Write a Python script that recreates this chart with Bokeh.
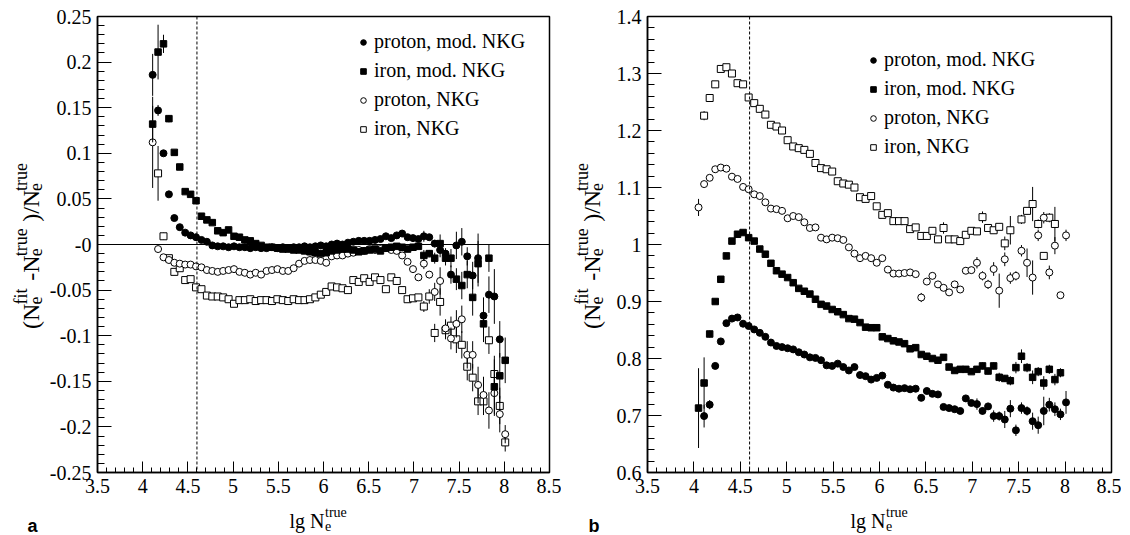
import math
from bokeh.plotting import figure
from bokeh.layouts import row, column
from bokeh.models import (ColumnDataSource, FixedTicker, Span, Legend, LegendItem, Range1d,
                          CustomJSTickFormatter)
from bokeh.core.properties import value
from bokeh.embed import file_html
from bokeh.resources import INLINE

# ---------------- data ----------------
lg_ne = [4.05, 4.11, 4.17, 4.23, 4.29, 4.35, 4.41, 4.47, 4.53, 4.59,
         4.65, 4.71, 4.77, 4.83, 4.89, 4.95, 5.01, 5.07, 5.13, 5.19,
         5.25, 5.31, 5.37, 5.43, 5.49, 5.55, 5.61, 5.67, 5.73, 5.79,
         5.85, 5.91, 5.97, 6.03, 6.09, 6.15, 6.21, 6.27, 6.33, 6.39,
         6.45, 6.51, 6.57, 6.63, 6.69, 6.75, 6.81, 6.87, 6.93, 6.99,
         7.05, 7.11, 7.17, 7.23, 7.29, 7.35, 7.41, 7.47, 7.53, 7.59,
         7.65, 7.71, 7.77, 7.83, 7.89, 7.95, 8.01]

# panel a : (Nfit - Ntrue)/Ntrue
a_p_mod = [None, 0.186, 0.147, 0.100, 0.055, 0.029, 0.019, 0.013, 0.010, 0.008,
           0.005, 0.003, -0.001, -0.002, -0.002, -0.003, -0.002, -0.003, -0.003, -0.004,
           -0.003, -0.004, -0.004, -0.003, -0.004, -0.003, -0.004, -0.003, -0.003, -0.002,
           -0.003, -0.002, -0.001, -0.002, 0.000, 0.001, 0.000, 0.002, 0.003, 0.004,
           0.004, 0.004, 0.005, 0.006, 0.009, 0.007, 0.010, 0.012, 0.008, 0.007,
           0.006, 0.009, 0.008, 0.001, -0.006, -0.010, -0.033, -0.001, 0.003, -0.013,
           -0.034, -0.015, -0.078, -0.055, -0.057, -0.104, None]
a_p_mod_err = [None, 0.023, 0.006, 0.003, 0.002, 0, 0, 0, 0, 0,
               0, 0, 0, 0, 0, 0, 0, 0, 0, 0,
               0, 0, 0, 0, 0, 0, 0, 0, 0, 0,
               0, 0, 0, 0, 0, 0, 0, 0, 0, 0,
               0, 0.002, 0.002, 0.002, 0.002, 0.002, 0.002, 0.002, 0.002, 0.002,
               0.002, 0.006, 0.003, 0.004, 0.008, 0.006, 0.010, 0.015, 0.015, 0.010,
               0.015, 0.027, 0.020, 0.020, 0.030, 0.020, None]

a_fe_mod = [None, 0.132, 0.211, 0.220, 0.138, 0.101, 0.085, 0.058, 0.055, 0.048,
            0.031, 0.027, 0.024, 0.015, 0.013, 0.016, 0.009, 0.008, 0.005, 0.004,
            0.001, -0.001, -0.003, -0.003, -0.004, -0.005, -0.005, -0.006, -0.006, -0.007,
            -0.008, -0.009, -0.010, -0.009, -0.007, -0.006, -0.005, -0.005, -0.006, -0.008,
            -0.007, -0.006, -0.005, -0.007, -0.004, -0.003, -0.002, -0.003, -0.005, -0.003,
            -0.002, -0.012, -0.010, -0.015, 0.001, -0.015, -0.015, -0.038, -0.045, -0.033,
            -0.058, -0.021, -0.087, -0.015, -0.156, -0.144, -0.127]
a_fe_mod_err = [None, 0.020, 0.030, 0.010, 0.004, 0.002, 0.002, 0, 0, 0,
                0, 0, 0, 0, 0, 0, 0, 0, 0, 0,
                0, 0, 0, 0, 0, 0, 0, 0, 0, 0,
                0, 0, 0, 0, 0, 0, 0, 0, 0, 0,
                0, 0, 0, 0, 0, 0, 0, 0, 0, 0,
                0, 0.006, 0.004, 0.006, 0.010, 0.008, 0.010, 0.012, 0.015, 0.015,
                0.020, 0.025, 0.020, 0.015, 0.030, 0.025, 0.025]

a_p_nkg = [None, 0.112, -0.005, -0.014, -0.017, -0.020, -0.021, -0.022, -0.022, -0.024,
           -0.025, -0.028, -0.029, -0.030, -0.029, -0.028, -0.027, -0.030, -0.031, -0.033,
           -0.031, -0.033, -0.029, -0.028, -0.027, -0.029, -0.029, -0.026, -0.021, -0.018,
           -0.017, -0.017, -0.018, -0.020, -0.013, -0.012, -0.012, -0.010, -0.009, -0.006,
           -0.007, -0.005, -0.006, -0.005, -0.004, -0.006, -0.007, -0.012, -0.019, -0.027,
           -0.036, -0.021, -0.033, -0.052, -0.040, -0.092, -0.103, -0.087, -0.082, -0.121,
           -0.121, -0.154, -0.165, -0.182, -0.163, -0.186, -0.208]
a_p_nkg_err = [None, 0.050, 0.003, 0, 0, 0, 0, 0, 0, 0,
               0, 0, 0, 0, 0, 0, 0, 0, 0, 0,
               0, 0, 0, 0, 0, 0, 0, 0, 0, 0,
               0, 0, 0, 0, 0, 0, 0, 0, 0, 0,
               0, 0, 0, 0, 0, 0, 0, 0, 0, 0,
               0, 0.006, 0.004, 0.010, 0.015, 0.010, 0.012, 0.015, 0.015, 0.015,
               0.015, 0.020, 0.020, 0.020, 0.025, 0.020, 0.010]

a_fe_nkg = [None, None, 0.078, 0.009, -0.015, -0.030, -0.026, -0.039, -0.038, -0.047,
            -0.049, -0.056, -0.057, -0.057, -0.058, -0.060, -0.065, -0.061, -0.061, -0.060,
            -0.062, -0.061, -0.061, -0.062, -0.060, -0.061, -0.062, -0.060, -0.061, -0.061,
            -0.060, -0.058, -0.055, -0.052, -0.046, -0.047, -0.048, -0.050, -0.039, -0.041,
            -0.037, -0.041, -0.036, -0.039, -0.049, -0.036, -0.040, -0.050, -0.060, -0.059,
            -0.058, -0.068, -0.057, -0.097, -0.063, -0.094, -0.089, -0.104, -0.110, -0.134,
            -0.146, -0.172, -0.172, -0.105, -0.142, -0.177, -0.217]
a_fe_nkg_err = [None, None, 0.030, 0.004, 0.002, 0, 0, 0, 0, 0,
                0, 0, 0, 0, 0, 0, 0, 0, 0, 0,
                0, 0, 0, 0, 0, 0, 0, 0, 0, 0,
                0, 0, 0, 0, 0, 0, 0, 0, 0, 0,
                0, 0, 0, 0, 0, 0, 0, 0, 0, 0,
                0, 0.006, 0.008, 0.010, 0.015, 0.010, 0.010, 0.015, 0.015, 0.015,
                0.015, 0.015, 0.015, 0.015, 0.020, 0.020, 0.010]

# panel b
b_p_mod = [None, 0.699, 0.719, 0.787, 0.830, 0.862, 0.870, 0.872, 0.861, 0.857,
           0.851, 0.845, 0.838, 0.828, 0.822, 0.820, 0.818, 0.816, 0.811, 0.807,
           0.802, 0.801, 0.797, 0.788, 0.787, 0.791, 0.785, 0.779, 0.785, 0.771,
           0.769, 0.763, 0.766, 0.770, 0.754, 0.749, 0.747, 0.748, 0.746, 0.747,
           0.731, 0.743, 0.738, 0.737, 0.715, 0.713, 0.711, 0.708, 0.730, 0.722,
           0.720, 0.708, 0.716, 0.699, 0.699, 0.693, 0.712, 0.674, 0.713, 0.708,
           0.690, 0.683, 0.708, 0.719, 0.711, 0.702, 0.723]
b_p_mod_err = [None, 0.020, 0.008, 0.003, 0, 0, 0, 0, 0, 0,
               0, 0, 0, 0, 0, 0, 0, 0, 0, 0,
               0, 0, 0, 0, 0, 0, 0, 0, 0, 0,
               0, 0, 0, 0, 0, 0, 0, 0, 0, 0,
               0.004, 0.004, 0.004, 0.004, 0.004, 0.004, 0.004, 0.004, 0.004, 0.004,
               0.010, 0.006, 0.006, 0.010, 0.008, 0.015, 0.015, 0.010, 0.010, 0.008,
               0.015, 0.015, 0.025, 0.012, 0.012, 0.010, 0.020]

b_fe_mod = [0.713, 0.757, 0.843, 0.900, 0.939, 0.980, 1.006, 1.018, 1.021, 1.012,
            1.006, 0.992, 0.983, 0.967, 0.954, 0.948, 0.942, 0.933, 0.923, 0.918,
            0.913, 0.904, 0.895, 0.892, 0.886, 0.882, 0.877, 0.870, 0.869, 0.863,
            0.855, 0.854, 0.854, 0.838, 0.835, 0.831, 0.829, 0.826, 0.817, 0.819,
            0.807, 0.804, 0.800, 0.797, 0.802, 0.785, 0.779, 0.781, 0.781, 0.777,
            0.781, 0.787, 0.778, 0.787, 0.767, 0.765, 0.761, 0.784, 0.804, 0.784,
            0.767, 0.777, 0.757, 0.781, 0.763, 0.775, None]
b_fe_mod_err = [0.070, 0.045, 0.006, 0.003, 0, 0, 0, 0, 0, 0,
                0, 0, 0, 0, 0, 0, 0, 0, 0, 0,
                0, 0, 0, 0, 0, 0, 0, 0, 0, 0,
                0, 0, 0, 0, 0, 0, 0, 0, 0, 0,
                0, 0, 0, 0, 0, 0, 0, 0, 0, 0,
                0.006, 0.006, 0.006, 0.006, 0.008, 0.006, 0.008, 0.010, 0.012, 0.008,
                0.012, 0.008, 0.012, 0.008, 0.010, 0.008, None]

b_p_nkg = [1.065, 1.106, 1.117, 1.132, 1.135, 1.133, 1.119, 1.115, 1.101, 1.097,
           1.088, 1.085, 1.074, 1.063, 1.062, 1.059, 1.046, 1.050, 1.048, 1.039,
           1.029, 1.030, 1.012, 1.009, 1.012, 1.011, 1.008, 0.995, 0.984, 0.976,
           0.980, 0.976, 0.968, 0.976, 0.956, 0.949, 0.949, 0.950, 0.951, 0.948,
           0.907, 0.935, 0.945, 0.930, 0.924, 0.916, 0.930, 0.921, 0.954, 0.955,
           0.968, 0.945, 0.930, 0.957, 0.919, 0.974, 0.941, 0.945, 0.989, 0.968,
           0.942, 1.016, 1.047, 0.951, 0.998, 0.911, 1.016]
b_p_nkg_err = [0.015, 0.004, 0, 0, 0, 0, 0, 0, 0, 0,
               0, 0, 0, 0, 0, 0, 0, 0, 0, 0,
               0, 0, 0, 0, 0, 0, 0, 0, 0, 0,
               0, 0, 0, 0, 0, 0, 0, 0, 0, 0,
               0.008, 0.006, 0.006, 0.006, 0.006, 0.006, 0.006, 0.006, 0.006, 0.006,
               0.010, 0.008, 0.008, 0.012, 0.030, 0.012, 0.010, 0.008, 0.010, 0.025,
               0.030, 0.010, 0.010, 0.012, 0.015, 0.004, 0.010]

b_fe_nkg = [None, 1.226, 1.257, 1.281, 1.308, 1.311, 1.300, 1.283, 1.281, 1.258,
            1.248, 1.238, 1.228, 1.210, 1.207, 1.200, 1.183, 1.172, 1.169, 1.166,
            1.159, 1.143, 1.134, 1.132, 1.128, 1.111, 1.107, 1.105, 1.100, 1.083,
            1.080, 1.085, 1.067, 1.052, 1.055, 1.041, 1.041, 1.041, 1.027, 1.030,
            1.015, 1.015, 1.024, 1.009, 1.029, 1.009, 1.009, 1.006, 1.017, 1.024,
            1.023, 1.048, 1.029, 1.025, 1.031, 1.002, 1.025, None, 1.044, 1.059,
            1.071, 1.036, 0.980, 1.047, 1.036, None, None]
b_fe_nkg_err = [None, 0.008, 0.003, 0, 0, 0, 0, 0, 0, 0,
                0, 0, 0, 0, 0, 0, 0, 0, 0, 0,
                0, 0, 0, 0, 0, 0, 0, 0, 0, 0,
                0, 0, 0, 0, 0, 0, 0, 0, 0, 0,
                0, 0, 0, 0, 0.010, 0, 0, 0, 0, 0,
                0, 0.010, 0, 0, 0.004, 0.012, 0.025, None, 0.008, 0.006,
                0.030, 0.008, 0.004, 0.008, 0.030, None, None]

legend_labels = ["proton, mod. NKG", "iron, mod. NKG", "proton, NKG", "iron, NKG"]
panel_tags = ["a", "b"]
cut_lg_ne = 4.6

x_ticks = [3.5, 4.0, 4.5, 5.0, 5.5, 6.0, 6.5, 7.0, 7.5, 8.0, 8.5]
x_tick_labels = ["3.5", "4", "4.5", "5", "5.5", "6", "6.5", "7", "7.5", "8", "8.5"]
a_y_ticks = [-0.25, -0.2, -0.15, -0.1, -0.05, 0.0, 0.05, 0.1, 0.15, 0.2, 0.25]
a_y_tick_labels = ["-0.25", "-0.2", "-0.15", "-0.1", "-0.05", "-0", "0.05", "0.1", "0.15", "0.2", "0.25"]
b_y_ticks = [0.6, 0.7, 0.8, 0.9, 1.0, 1.1, 1.2, 1.3, 1.4]
b_y_tick_labels = ["0.6", "0.7", "0.8", "0.9", "1", "1.1", "1.2", "1.3", "1.4"]

# ---------------- styling / layout ----------------
SERIF = "Liberation Serif"
TOP = 16
FRAME_H = 456
BOT = 30
PH = TOP + FRAME_H + BOT          # height of the panels row
STRIP_H = 535 - PH                # bottom strip with axis titles
YT_W = 46                         # width of the y-title columns

FMT_CODE = """
let best = 0, d = Infinity;
for (let i = 0; i < tv.length; i++) {
  const dd = Math.abs(tv[i] - tick);
  if (dd < d) { d = dd; best = i; }
}
return tl[best];
"""


def fmt(tick_vals, tick_labels):
    return CustomJSTickFormatter(args=dict(tv=tick_vals, tl=tick_labels), code=FMT_CODE)


def make_fig(width, bl, br, yr, yticks, ylabels, yminor):
    p = figure(width=width, height=PH, x_range=Range1d(3.5, 8.5), y_range=Range1d(*yr),
               output_backend="svg", toolbar_location=None, tools="",
               min_border_left=bl, min_border_right=br, min_border_top=TOP,
               min_border_bottom=BOT)
    p.xgrid.visible = False
    p.ygrid.visible = False
    p.background_fill_color = "white"
    p.border_fill_color = "white"
    p.outline_line_color = "black"
    p.outline_line_width = 1.5
    p.outline_line_alpha = 1.0
    xminor = [round(3.5 + 0.1 * i, 3) for i in range(51)]
    p.xaxis.ticker = FixedTicker(ticks=x_ticks, minor_ticks=xminor)
    p.xaxis.formatter = fmt(x_ticks, x_tick_labels)
    p.yaxis.ticker = FixedTicker(ticks=yticks, minor_ticks=yminor)
    p.yaxis.formatter = fmt(yticks, ylabels)
    for ax in (p.xaxis[0], p.yaxis[0]):
        ax.axis_line_color = "black"
        ax.axis_line_width = 1.5
        ax.major_tick_line_color = "black"
        ax.minor_tick_line_color = "black"
        ax.major_tick_line_width = 1
        ax.minor_tick_line_width = 1
        ax.major_tick_out = 0
        ax.minor_tick_out = 0
        ax.major_label_text_font = SERIF
        ax.major_label_text_font_size = "20px"
        ax.major_label_text_color = "black"
    p.xaxis.major_tick_in = 11
    p.xaxis.minor_tick_in = 5
    p.yaxis.major_tick_in = 14
    p.yaxis.minor_tick_in = 7
    p.xaxis.major_label_standoff = 6
    p.yaxis.major_label_standoff = 6
    p.add_layout(Span(location=cut_lg_ne, dimension="height", line_color="black",
                      line_width=1, line_dash="3 2"))
    return p


def text_fig(width, height, x0, y0):
    # frame in page pixels (y downwards) for free text placement
    f = figure(width=width, height=height, x_range=Range1d(x0, x0 + width),
               y_range=Range1d(y0 + height, y0), x_axis_type=None, y_axis_type=None,
               output_backend="svg", toolbar_location=None, tools="", min_border=0,
               outline_line_color=None)
    f.background_fill_color = "white"
    f.border_fill_color = "white"
    return f


def put(f, px, py, text, fs, angle=0.0, font=SERIF, style="normal"):
    f.text(x=[px], y=[py], text=[text], angle=angle, text_font=value(font),
           text_font_size=value(f"{fs}px"), text_font_style=style, text_align="left",
           text_baseline="alphabetic", text_color="black")


def add_xtitle(f, px, py):
    put(f, px, py, "lg N", 20)
    put(f, px + 35.5, py - 8, "true", 14)
    put(f, px + 35.5, py + 5, "e", 14)


def add_ytitle(f, bx, y0):
    main, small = 24, 18
    # (main text, subscript, superscript, advance along the title in px)
    segs = [("(N", None, None, 27.0), (None, "e", "fit", 26.0), ("-N", None, None, 27.0),
            (None, "e", "true", 38.0), (")/N", None, None, 34.0), (None, "e", "true", 28.0)]
    y = y0
    for mtext, sub, sup, adv in segs:
        if mtext:
            put(f, bx, y, mtext, main, angle=math.pi / 2)
        else:
            put(f, bx + 5, y, sub, small, angle=math.pi / 2)
            put(f, bx - 10, y, sup, small, angle=math.pi / 2)
        y -= adv


def series_source(x, y, err):
    xs, ys, lo, hi = [], [], [], []
    for xi, yi, ei in zip(x, y, err):
        if yi is None:
            continue
        e = ei or 0.0
        xs.append(xi)
        ys.append(yi)
        lo.append(yi - e)
        hi.append(yi + e)
    return ColumnDataSource(dict(x=xs, y=ys, lo=lo, hi=hi))


def draw(p, y, err, marker, filled, size):
    src = series_source(lg_ne, y, err)
    p.segment(x0="x", y0="lo", x1="x", y1="hi", source=src, line_color="black", line_width=1)
    return p.scatter("x", "y", source=src, marker=marker, size=size,
                     fill_color="black" if filled else "white",
                     line_color="black", line_width=1)


def add_legend(p, renderers, lx, ly):
    items = [LegendItem(label=lab, renderers=[r]) for lab, r in zip(legend_labels, renderers)]
    leg = Legend(items=items, location=(lx, ly), label_text_font=SERIF,
                 label_text_font_size="20px", label_text_color="black",
                 glyph_width=16, glyph_height=14, label_height=22, label_standoff=3,
                 spacing=6, padding=0, margin=0, border_line_alpha=0,
                 background_fill_alpha=0)
    p.add_layout(leg)


# ---------------- panel a ----------------
a_minor = [round(-0.25 + 0.01 * i, 3) for i in range(51)]
pa = make_fig(515, 40, 12, (-0.25, 0.25), a_y_ticks, a_y_tick_labels, a_minor)
pa.add_layout(Span(location=0, dimension="width", line_color="black", line_width=1))
ra4 = draw(pa, a_fe_nkg, a_fe_nkg_err, "square", False, 7)
ra3 = draw(pa, a_p_nkg, a_p_nkg_err, "circle", False, 7)
ra2 = draw(pa, a_fe_mod, a_fe_mod_err, "square", True, 6.5)
ra1 = draw(pa, a_p_mod, a_p_mod_err, "circle", True, 7)
add_legend(pa, [ra1, ra2, ra3, ra4], 258, 332)

# ---------------- panel b ----------------
b_minor = [round(0.6 + 0.02 * i, 3) for i in range(41)]
pb = make_fig(514, 40, 10, (0.6, 1.4), b_y_ticks, b_y_tick_labels, b_minor)
rb4 = draw(pb, b_fe_nkg, b_fe_nkg_err, "square", False, 7)
rb3 = draw(pb, b_p_nkg, b_p_nkg_err, "circle", False, 7)
rb2 = draw(pb, b_fe_mod, b_fe_mod_err, "square", True, 6.5)
rb1 = draw(pb, b_p_mod, b_p_mod_err, "circle", True, 7)
add_legend(pb, [rb1, rb2, rb3, rb4], 218, 314)

# ---------------- titles ----------------
ya = text_fig(YT_W, PH, 0, 0)
add_ytitle(ya, 30, 344)
yb = text_fig(YT_W, PH, 561, 0)
add_ytitle(yb, 591, 344)

total_w = YT_W + 515 + YT_W + 514
strip = text_fig(total_w, STRIP_H, 0, PH)
add_xtitle(strip, 289, 520)
add_xtitle(strip, 850, 520)
put(strip, 27, 525, panel_tags[0], 18, font="Liberation Sans", style="bold")
put(strip, 588, 525, panel_tags[1], 18, font="Liberation Sans", style="bold")

layout = column(row(ya, pa, yb, pb), strip)
open("out.html", "w").write(file_html(layout, INLINE))
